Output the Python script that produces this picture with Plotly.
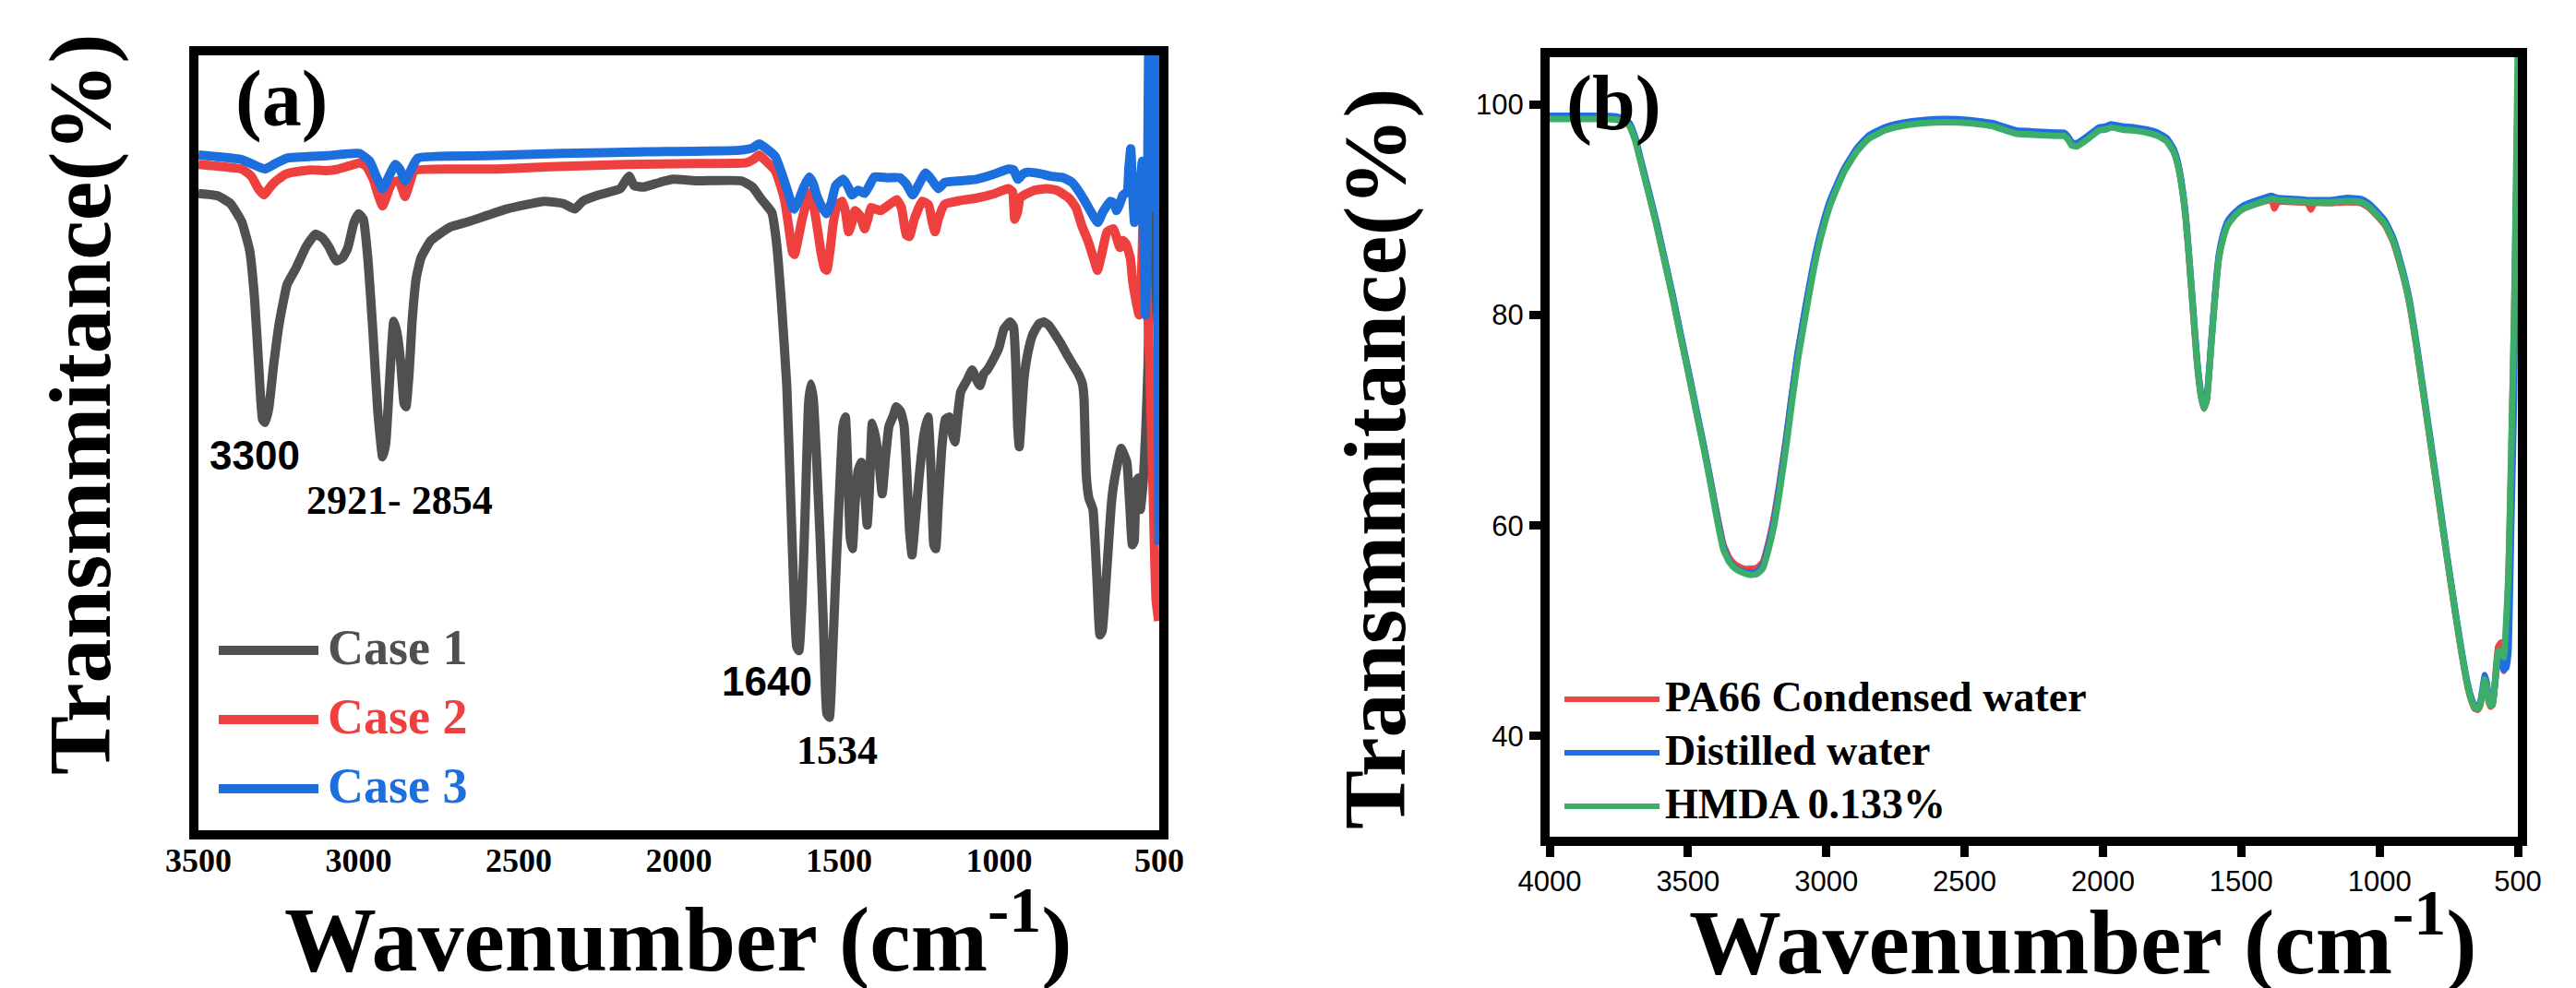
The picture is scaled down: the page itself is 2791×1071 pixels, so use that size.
import plotly.graph_objects as go

W, H = 2791, 1071
def px(x): return x / W
def py(y): return 1 - y / H

# ---------------- Panel (a) data ----------------
case1_wn = [3500, 3440, 3400, 3365, 3340, 3325, 3312, 3300, 3292, 3280, 3265, 3247, 3223, 3195, 3164, 3135, 3115, 3093, 3070, 3050, 3034, 3015, 3000, 2985, 2970, 2955, 2940, 2925, 2915, 2904, 2890, 2880, 2869, 2858, 2852, 2842, 2833, 2820, 2805, 2774, 2715, 2656, 2538, 2420, 2360, 2325, 2300, 2250, 2183, 2165, 2155, 2140, 2112, 2060, 2018, 1947, 1805, 1770, 1745, 1725, 1710, 1695, 1680, 1663, 1650, 1640, 1632, 1625, 1615, 1605, 1595, 1588, 1580, 1570, 1558, 1548, 1538, 1530, 1520, 1508, 1498, 1488, 1480, 1472, 1465, 1458, 1450, 1440, 1430, 1420, 1412, 1405, 1396, 1385, 1375, 1365, 1355, 1344, 1330, 1321, 1308, 1297, 1288, 1280, 1272, 1262, 1250, 1235, 1222, 1212, 1204, 1198, 1190, 1179, 1168, 1155, 1145, 1138, 1128, 1120, 1100, 1084, 1070, 1060, 1048, 1037, 1020, 1001, 985, 966, 955, 948, 942, 937, 931, 922, 910, 895, 875, 860, 845, 825, 805, 789, 770, 754, 740, 735, 728, 720, 707, 695, 685, 678, 670, 660, 650, 643, 632, 619, 610, 601, 592, 584, 578, 572, 565, 559, 550, 542, 535, 528, 520, 512]
case1_t = [81.8, 81.5, 80.5, 78.2, 74.5, 68.5, 60.0, 53.0, 52.6, 54.5, 60.0, 65.4, 70.2, 72.3, 75.0, 76.6, 76.2, 75.0, 73.2, 73.6, 74.8, 78.0, 79.2, 78.5, 73.0, 64.0, 54.0, 48.2, 50.0, 57.3, 65.5, 64.0, 60.5, 55.0, 54.6, 59.0, 65.4, 71.0, 73.6, 75.8, 77.5, 78.2, 79.8, 80.8, 80.5, 79.8, 80.8, 81.6, 82.4, 83.5, 84.0, 82.8, 82.6, 83.2, 83.6, 83.4, 83.4, 82.6, 81.2, 80.2, 79.4, 75.5, 68.0, 57.3, 42.0, 30.0, 24.0, 23.5, 30.0, 42.0, 55.0, 57.5, 55.5, 48.0, 37.0, 26.0, 15.5, 15.0, 23.0, 35.0, 44.0, 52.0, 53.3, 46.0, 38.0, 36.5, 42.0, 46.5, 47.5, 44.0, 39.5, 44.0, 52.5, 50.5, 47.5, 43.5, 48.0, 52.1, 53.5, 54.6, 54.0, 52.3, 46.0, 39.0, 35.7, 40.0, 45.5, 51.0, 53.3, 46.0, 37.0, 36.5, 42.0, 49.3, 53.0, 53.3, 51.0, 50.1, 54.0, 56.5, 58.0, 59.3, 58.0, 57.3, 58.8, 59.3, 60.5, 62.1, 64.5, 65.4, 64.8, 60.0, 52.0, 49.5, 53.0, 58.3, 61.5, 63.8, 65.2, 65.4, 65.0, 63.8, 62.5, 61.3, 60.0, 58.9, 57.5, 55.7, 46.0, 43.0, 41.5, 33.0, 25.5, 26.0, 30.0, 36.0, 42.0, 44.5, 47.0, 49.3, 48.5, 47.5, 42.0, 37.0, 37.5, 45.0, 45.5, 41.5, 45.0, 51.7, 60.0, 75.0, 88.0, 95.0]

case2_wn = [3500, 3420, 3364, 3335, 3313, 3295, 3280, 3263, 3230, 3204, 3150, 3100, 3064, 3030, 2994, 2975, 2954, 2938, 2925, 2912, 2895, 2875, 2865, 2855, 2845, 2825, 2700, 2566, 2400, 2167, 1950, 1790, 1765, 1749, 1730, 1699, 1680, 1669, 1655, 1645, 1639, 1630, 1615, 1600, 1590, 1578, 1568, 1555, 1545, 1538, 1528, 1518, 1505, 1490, 1480, 1470, 1460, 1450, 1435, 1420, 1410, 1400, 1385, 1370, 1345, 1320, 1305, 1290, 1280, 1265, 1240, 1220, 1208, 1200, 1190, 1170, 1120, 1071, 1020, 971, 958, 951, 942, 935, 922, 890, 852, 820, 782, 760, 742, 722, 705, 693, 680, 663, 643, 632, 623, 613, 603, 590, 583, 572, 563, 556, 550, 545, 540, 530, 520, 510, 502]
case2_t = [85.5, 85.2, 84.9, 84.0, 82.4, 81.6, 82.4, 83.2, 84.2, 84.5, 84.8, 84.7, 84.9, 85.3, 85.7, 85.2, 83.6, 81.5, 80.2, 81.5, 83.2, 83.4, 82.5, 81.4, 82.5, 84.7, 84.9, 84.9, 85.2, 85.5, 85.6, 85.7, 86.2, 86.7, 86.0, 84.7, 82.5, 80.8, 77.0, 74.3, 74.0, 75.5, 78.5, 80.8, 81.9, 80.0, 77.5, 74.0, 72.2, 72.0, 74.5, 78.0, 80.3, 80.8, 79.5, 76.9, 78.0, 79.6, 79.0, 77.3, 78.5, 80.0, 79.8, 79.6, 80.3, 81.0, 80.0, 76.5, 76.3, 78.5, 80.8, 80.3, 78.0, 76.9, 78.5, 80.4, 80.9, 81.2, 81.7, 82.4, 82.0, 78.5, 79.5, 81.2, 81.6, 82.2, 82.4, 82.2, 81.2, 80.0, 77.7, 75.7, 73.5, 72.0, 74.0, 76.9, 77.3, 76.0, 74.9, 75.8, 75.3, 73.5, 70.6, 68.0, 66.3, 70.0, 80.0, 84.0, 72.0, 60.0, 45.0, 30.0, 27.3]

case3_wn = [3500, 3420, 3364, 3330, 3293, 3260, 3223, 3100, 2998, 2965, 2945, 2925, 2905, 2885, 2870, 2855, 2840, 2815, 2600, 2367, 2100, 1810, 1770, 1749, 1730, 1699, 1680, 1659, 1645, 1639, 1625, 1610, 1593, 1580, 1570, 1555, 1540, 1525, 1510, 1486, 1470, 1460, 1440, 1420, 1405, 1390, 1350, 1310, 1290, 1270, 1250, 1230, 1210, 1190, 1170, 1120, 1071, 1020, 971, 955, 941, 925, 911, 870, 841, 800, 772, 750, 732, 710, 692, 675, 652, 640, 633, 623, 613, 600, 595, 589, 583, 577, 565, 553, 543, 538, 533, 528, 520, 512, 506, 503, 501]
case3_t = [86.7, 86.4, 86.1, 85.5, 84.9, 85.6, 86.3, 86.6, 86.9, 85.9, 84.0, 82.4, 84.0, 85.5, 84.8, 83.4, 84.5, 86.3, 86.6, 86.9, 87.1, 87.3, 87.6, 88.1, 87.6, 86.5, 84.5, 81.9, 80.0, 79.8, 81.0, 82.6, 83.9, 83.0, 81.6, 80.2, 79.2, 80.5, 82.8, 83.6, 82.5, 81.6, 82.2, 81.8, 82.8, 83.9, 83.8, 83.8, 83.0, 81.6, 83.0, 84.4, 83.5, 82.4, 83.2, 83.4, 83.6, 84.2, 84.9, 84.8, 83.6, 84.3, 84.5, 84.3, 84.0, 83.8, 83.2, 82.0, 80.8, 79.2, 78.1, 79.5, 80.8, 80.5, 79.6, 80.5, 81.6, 82.0, 85.0, 87.5, 82.0, 78.1, 80.0, 85.9, 66.3, 75.0, 100.0, 80.0, 105.0, 110.0, 104.0, 60.0, 37.0]

case_names = ["Case 1", "Case 2", "Case 3"]
case_colors = ["#505050", "#EF4040", "#1E6FDE"]

# peak labels (a)
peak_labels = ["3300", "2921- 2854", "1640", "1534"]

# ---------------- Panel (b) data ----------------
b_wn = [4000, 3900, 3800, 3754, 3730, 3711, 3690, 3669, 3640, 3612, 3584, 3556, 3528, 3499, 3471, 3443, 3420, 3400, 3386, 3372, 3350, 3329, 3300, 3273, 3250, 3230, 3210, 3188, 3167, 3146, 3125, 3103, 3075, 3047, 3020, 2990, 2960, 2933, 2890, 2848, 2790, 2735, 2650, 2566, 2480, 2396, 2350, 2311, 2240, 2169, 2141, 2125, 2113, 2095, 2070, 2040, 2014, 1990, 1971, 1930, 1886, 1840, 1802, 1770, 1745, 1730, 1717, 1700, 1688, 1674, 1660, 1645, 1635, 1625, 1609, 1595, 1581, 1565, 1547, 1520, 1490, 1440, 1391, 1380, 1368, 1300, 1260, 1248, 1236, 1179, 1120, 1066, 1040, 1009, 980, 952, 925, 896, 868, 839, 811, 783, 755, 726, 705, 684, 670, 656, 645, 636, 627, 619, 612, 605, 598, 591, 581, 571, 561, 551, 542, 534, 524, 514, 507, 500]

pa66_t = [98.8, 98.8, 98.8, 98.6, 98.4, 98.0, 96.6, 94.4, 91.4, 88.4, 85.1, 81.8, 78.2, 74.6, 71.0, 67.5, 64.5, 61.7, 59.9, 58.2, 56.9, 56.3, 55.9, 55.9, 56.0, 56.5, 58.3, 61.0, 64.4, 68.2, 72.3, 76.4, 80.6, 84.5, 87.6, 90.3, 92.3, 93.8, 95.6, 96.8, 97.6, 98.0, 98.3, 98.4, 98.3, 98.0, 97.6, 97.3, 97.2, 97.1, 97.1, 96.7, 96.2, 96.1, 96.5, 97.1, 97.6, 97.7, 97.9, 97.7, 97.6, 97.4, 97.1, 96.6, 95.6, 94.4, 92.6, 89.0, 85.1, 80.2, 75.5, 72.2, 71.1, 71.9, 77.1, 81.7, 85.4, 87.4, 88.7, 89.6, 90.2, 90.6, 90.9, 90.1, 90.7, 90.7, 90.6, 90.0, 90.6, 90.6, 90.7, 90.6, 90.2, 89.4, 88.5, 87.0, 84.7, 81.6, 77.2, 72.0, 66.9, 61.8, 56.7, 51.6, 48.1, 45.0, 43.5, 42.6, 42.5, 42.9, 44.2, 45.3, 44.5, 43.2, 42.8, 43.0, 45.8, 48.5, 48.9, 46.2, 49.5, 55.0, 66.0, 79.0, 90.0, 101.3]

distilled_t = [98.9, 98.9, 98.9, 98.8, 98.6, 98.2, 96.8, 94.6, 91.6, 88.6, 85.3, 82.0, 78.4, 74.8, 71.2, 67.6, 64.5, 61.6, 59.7, 58.0, 56.6, 56.0, 55.6, 55.5, 55.6, 56.2, 58.0, 60.6, 64.1, 68.0, 72.3, 76.5, 80.8, 84.8, 87.9, 90.6, 92.5, 94.0, 95.8, 97.0, 97.8, 98.2, 98.5, 98.6, 98.5, 98.2, 97.8, 97.5, 97.4, 97.3, 97.3, 96.9, 96.4, 96.3, 96.7, 97.3, 97.8, 97.9, 98.1, 97.9, 97.8, 97.6, 97.3, 96.8, 95.8, 94.6, 92.8, 89.3, 85.5, 80.7, 75.9, 72.5, 71.3, 72.0, 77.2, 81.9, 85.7, 87.7, 89.0, 89.8, 90.4, 90.9, 91.3, 91.2, 91.1, 91.0, 90.9, 90.9, 90.9, 90.9, 91.1, 91.0, 90.6, 89.8, 88.9, 87.4, 85.1, 82.0, 77.6, 72.4, 67.3, 62.2, 57.0, 51.9, 48.4, 45.3, 43.8, 42.9, 42.8, 43.2, 44.6, 45.8, 45.0, 43.6, 43.1, 43.2, 45.3, 47.6, 47.0, 46.3, 46.5, 48.0, 60.0, 72.0, 88.0, 101.0]

hmda_t = [98.6, 98.6, 98.6, 98.5, 98.3, 97.9, 96.5, 94.3, 91.3, 88.3, 85.0, 81.7, 78.1, 74.5, 70.9, 67.3, 64.2, 61.3, 59.4, 57.7, 56.5, 55.9, 55.5, 55.3, 55.4, 55.9, 57.6, 60.1, 63.5, 67.3, 71.5, 75.7, 80.0, 84.1, 87.3, 90.1, 92.1, 93.7, 95.5, 96.7, 97.5, 97.9, 98.2, 98.3, 98.2, 97.9, 97.5, 97.2, 97.1, 97.0, 97.0, 96.6, 96.1, 96.0, 96.4, 97.0, 97.5, 97.6, 97.8, 97.6, 97.5, 97.3, 97.0, 96.5, 95.5, 94.3, 92.5, 89.0, 85.3, 80.5, 75.7, 72.3, 71.1, 71.8, 76.9, 81.5, 85.3, 87.3, 88.6, 89.5, 90.1, 90.6, 91.0, 91.0, 90.9, 90.8, 90.7, 90.7, 90.7, 90.7, 90.8, 90.7, 90.3, 89.5, 88.6, 87.1, 84.8, 81.7, 77.3, 72.1, 67.0, 61.9, 56.8, 51.7, 48.2, 45.1, 43.6, 42.7, 42.6, 43.0, 44.3, 45.4, 44.6, 43.3, 42.9, 43.0, 45.5, 48.1, 47.9, 47.5, 51.0, 55.3, 67.0, 79.3, 92.0, 105.5]

b_names = ["PA66 Condensed water", "Distilled water", "HMDA 0.133%"]
b_colors = ["#EF4444", "#1F6FE0", "#3CAE6A"]

x_ticks = [3500, 3000, 2500, 2000, 1500, 1000, 500]
x2_ticks = [4000, 3500, 3000, 2500, 2000, 1500, 1000, 500]
y2_ticks = [40, 60, 80, 100]

SERIF = "Liberation Serif"
SANS = "Liberation Sans"

fig = go.Figure()
for wn, t, name, col in zip([case1_wn, case2_wn, case3_wn], [case1_t, case2_t, case3_t], case_names, case_colors):
    fig.add_trace(go.Scatter(x=wn, y=t, mode="lines", name=name,
                             line=dict(color=col, width=10, shape="spline", smoothing=0.4),
                             xaxis="x", yaxis="y", showlegend=False))
for t, name, col in zip([pa66_t, distilled_t, hmda_t], b_names, b_colors):
    fig.add_trace(go.Scatter(x=b_wn, y=t, mode="lines", name=name,
                             line=dict(color=col, width=7, shape="spline", smoothing=0.4),
                             xaxis="x2", yaxis="y2", showlegend=False))

axis_common = dict(showgrid=False, zeroline=False, showline=True, linewidth=10,
                   linecolor="black", mirror=True, automargin=False)

fig.update_layout(
    width=W, height=H, margin=dict(l=0, r=0, t=0, b=0, autoexpand=False),
    paper_bgcolor="white", plot_bgcolor="white",
    xaxis=dict(domain=[px(207), px(1248)], range=[3500, 500], tickvals=x_ticks,
               ticks="", ticklabelstandoff=-8,
               tickfont=dict(family=SERIF, size=36, color="black", weight="bold"),
               anchor="y", **axis_common),
    yaxis=dict(domain=[py(892), py(52)], range=[0.6, 99.4], showticklabels=False,
               ticks="", anchor="x", **axis_common),
    xaxis2=dict(domain=[px(1671), px(2720)], range=[4000, 500], tickvals=x2_ticks,
                ticks="outside", ticklen=12, tickwidth=9, tickcolor="black",
                tickfont=dict(family=SANS, size=31, color="black"),
                anchor="y2", **axis_common),
    yaxis2=dict(domain=[py(899), py(54)], range=[30.45, 104.47], tickvals=y2_ticks,
                ticks="outside", ticklen=12, tickwidth=9, tickcolor="black",
                tickfont=dict(family=SANS, size=31, color="black"),
                anchor="x2", **axis_common),
)

ann = []
# panel labels
ann.append(dict(text="(a)", x=px(297), y=py(99), font=dict(family=SERIF, size=86, color="black", weight="bold")))
ann.append(dict(text="(b)", x=px(1740), y=py(104), font=dict(family=SERIF, size=84, color="black", weight="bold")))
# axis titles
ytitle = "Transmmitance(%)"
xtitle = "Wavenumber (cm<sup>-1</sup>)"
ann.append(dict(text=ytitle, x=px(78), y=py(431), textangle=-90, font=dict(family=SERIF, size=96, color="black", weight="bold")))
ann.append(dict(text=ytitle, x=px(1482), y=py(490), textangle=-90, font=dict(family=SERIF, size=96, color="black", weight="bold")))
ann.append(dict(text=xtitle, x=px(727), y=py(1003), font=dict(family=SERIF, size=100, color="black", weight="bold")))
ann.append(dict(text=xtitle, x=px(2249), y=py(1006), font=dict(family=SERIF, size=100, color="black", weight="bold")))
# peak labels
pk_pos = [(268, 486, SANS), (425, 534, SERIF), (823, 730, SANS), (899, 805, SERIF)]
for lab, (x, y, fam) in zip(peak_labels, pk_pos):
    ann.append(dict(text=lab, x=px(x), y=py(y), font=dict(family=fam, size=44, color="black", weight="bold")))

shapes = []
# legend (a)
for i, (name, col) in enumerate(zip(case_names, case_colors)):
    yy = 697 + 75 * i
    shapes.append(dict(type="line", xref="paper", yref="paper", x0=px(229), x1=px(337), y0=py(yy), y1=py(yy),
                       line=dict(color=col, width=10)))
    ann.append(dict(text=name, x=px(345), y=py(yy - 3), xanchor="left",
                    font=dict(family=SERIF, size=54, color=col, weight="bold")))
# legend (b)
for i, (name, col) in enumerate(zip(b_names, b_colors)):
    yy = 750 + 58 * i
    shapes.append(dict(type="line", xref="paper", yref="paper", x0=px(1687), x1=px(1790), y0=py(yy), y1=py(yy),
                       line=dict(color=col, width=6)))
    ann.append(dict(text=name, x=px(1794), y=py(yy - 3), xanchor="left",
                    font=dict(family=SERIF, size=46, color="black", weight="bold")))

for a in ann:
    a.setdefault("xref", "paper")
    a.setdefault("yref", "paper")
    a.setdefault("xanchor", "center")
    a.setdefault("yanchor", "middle")
    a.setdefault("showarrow", False)
fig.update_layout(annotations=ann, shapes=shapes)

fig.write_html("out.html")
